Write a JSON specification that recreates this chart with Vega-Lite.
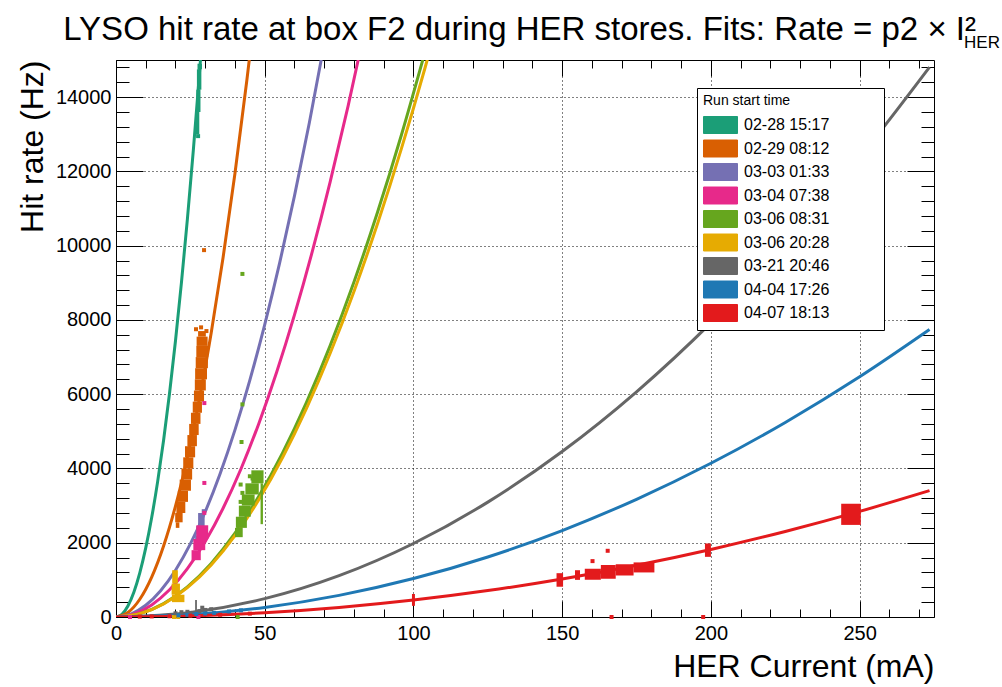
{
  "$schema": "https://vega.github.io/schema/vega-lite/v6.json",
  "width": 818,
  "height": 557,
  "autosize": {"type": "none"},
  "padding": {"left": 116, "top": 60, "right": 68, "bottom": 70},
  "background": "white",
  "config": {
    "view": {"stroke": null},
    "font": "Liberation Sans",
    "axis": {
      "domainColor": "black", "domainWidth": 1, "tickColor": "black", "tickWidth": 1,
      "labelFont": "Liberation Sans", "labelFontSize": 20, "labelColor": "black",
      "titleFont": "Liberation Sans", "titleFontSize": 32, "titleFontWeight": "normal", "titleColor": "black",
      "gridColor": "black", "gridDash": [1, 3], "gridOpacity": 1, "gridWidth": 1
    }
  },
  "title": {
    "text": "LYSO hit rate at box F2 during HER stores. Fits: Rate = p2 × I²\u2800",
    "subtitle": "HER",
    "anchor": "end", "frame": "group", "dx": 66, "offset": 9,
    "font": "Liberation Sans", "fontSize": 33, "fontWeight": "normal", "color": "black",
    "subtitleFont": "Liberation Sans", "subtitleFontSize": 17, "subtitleColor": "black", "subtitlePadding": -12
  },
  "datasets": {
    "fits": [
      {"s": "02-28 15:17", "I": 0, "R": 0}, {"s": "02-28 15:17", "I": 2, "R": 74.4}, {"s": "02-28 15:17", "I": 4, "R": 297.6}, {"s": "02-28 15:17", "I": 6, "R": 669.6}, {"s": "02-28 15:17", "I": 8, "R": 1190.4}, {"s": "02-28 15:17", "I": 10, "R": 1860}, {"s": "02-28 15:17", "I": 12, "R": 2678.4}, {"s": "02-28 15:17", "I": 14, "R": 3645.6}, {"s": "02-28 15:17", "I": 16, "R": 4761.6}, {"s": "02-28 15:17", "I": 18, "R": 6026.4}, {"s": "02-28 15:17", "I": 20, "R": 7440}, {"s": "02-28 15:17", "I": 22, "R": 9002.4}, {"s": "02-28 15:17", "I": 24, "R": 10713.6}, {"s": "02-28 15:17", "I": 26, "R": 12573.6}, {"s": "02-28 15:17", "I": 28, "R": 14582.4}, {"s": "02-28 15:17", "I": 29, "R": 15642.6},
      {"s": "02-29 08:12", "I": 0, "R": 0}, {"s": "02-29 08:12", "I": 4, "R": 119.5}, {"s": "02-29 08:12", "I": 8, "R": 478.1}, {"s": "02-29 08:12", "I": 12, "R": 1075.7}, {"s": "02-29 08:12", "I": 16, "R": 1912.3}, {"s": "02-29 08:12", "I": 20, "R": 2988}, {"s": "02-29 08:12", "I": 24, "R": 4302.7}, {"s": "02-29 08:12", "I": 28, "R": 5856.5}, {"s": "02-29 08:12", "I": 32, "R": 7649.3}, {"s": "02-29 08:12", "I": 36, "R": 9681.1}, {"s": "02-29 08:12", "I": 40, "R": 11952}, {"s": "02-29 08:12", "I": 44, "R": 14461.9}, {"s": "02-29 08:12", "I": 46, "R": 15806.5},
      {"s": "03-03 01:33", "I": 0, "R": 0}, {"s": "03-03 01:33", "I": 5, "R": 78.75}, {"s": "03-03 01:33", "I": 10, "R": 315}, {"s": "03-03 01:33", "I": 15, "R": 708.75}, {"s": "03-03 01:33", "I": 20, "R": 1260}, {"s": "03-03 01:33", "I": 25, "R": 1968.75}, {"s": "03-03 01:33", "I": 30, "R": 2835}, {"s": "03-03 01:33", "I": 35, "R": 3858.75}, {"s": "03-03 01:33", "I": 40, "R": 5040}, {"s": "03-03 01:33", "I": 45, "R": 6378.75}, {"s": "03-03 01:33", "I": 50, "R": 7875}, {"s": "03-03 01:33", "I": 55, "R": 9528.75}, {"s": "03-03 01:33", "I": 60, "R": 11340}, {"s": "03-03 01:33", "I": 65, "R": 13308.75}, {"s": "03-03 01:33", "I": 70, "R": 15435},
      {"s": "03-04 07:38", "I": 0, "R": 0}, {"s": "03-04 07:38", "I": 6, "R": 81.4}, {"s": "03-04 07:38", "I": 12, "R": 325.4}, {"s": "03-04 07:38", "I": 18, "R": 732.2}, {"s": "03-04 07:38", "I": 24, "R": 1301.8}, {"s": "03-04 07:38", "I": 30, "R": 2034}, {"s": "03-04 07:38", "I": 36, "R": 2929}, {"s": "03-04 07:38", "I": 42, "R": 3986.6}, {"s": "03-04 07:38", "I": 48, "R": 5207}, {"s": "03-04 07:38", "I": 54, "R": 6590.2}, {"s": "03-04 07:38", "I": 60, "R": 8136}, {"s": "03-04 07:38", "I": 66, "R": 9844.6}, {"s": "03-04 07:38", "I": 72, "R": 11715.8}, {"s": "03-04 07:38", "I": 78, "R": 13749.8}, {"s": "03-04 07:38", "I": 84, "R": 15946.6},
      {"s": "03-06 08:31", "I": 0, "R": 0}, {"s": "03-06 08:31", "I": 8, "R": 90.2}, {"s": "03-06 08:31", "I": 16, "R": 361}, {"s": "03-06 08:31", "I": 24, "R": 812.2}, {"s": "03-06 08:31", "I": 32, "R": 1443.8}, {"s": "03-06 08:31", "I": 40, "R": 2256}, {"s": "03-06 08:31", "I": 48, "R": 3248.6}, {"s": "03-06 08:31", "I": 56, "R": 4421.8}, {"s": "03-06 08:31", "I": 64, "R": 5775.4}, {"s": "03-06 08:31", "I": 72, "R": 7309.4}, {"s": "03-06 08:31", "I": 80, "R": 9024}, {"s": "03-06 08:31", "I": 88, "R": 10919}, {"s": "03-06 08:31", "I": 96, "R": 12994.6}, {"s": "03-06 08:31", "I": 104, "R": 15250.6},
      {"s": "03-06 20:28", "I": 0, "R": 0}, {"s": "03-06 20:28", "I": 8, "R": 87.7}, {"s": "03-06 20:28", "I": 16, "R": 350.7}, {"s": "03-06 20:28", "I": 24, "R": 789.1}, {"s": "03-06 20:28", "I": 32, "R": 1402.9}, {"s": "03-06 20:28", "I": 40, "R": 2192}, {"s": "03-06 20:28", "I": 48, "R": 3156.5}, {"s": "03-06 20:28", "I": 56, "R": 4296.3}, {"s": "03-06 20:28", "I": 64, "R": 5611.5}, {"s": "03-06 20:28", "I": 72, "R": 7102.1}, {"s": "03-06 20:28", "I": 80, "R": 8768}, {"s": "03-06 20:28", "I": 88, "R": 10609.3}, {"s": "03-06 20:28", "I": 96, "R": 12625.9}, {"s": "03-06 20:28", "I": 104, "R": 14817.9}, {"s": "03-06 20:28", "I": 108, "R": 15979.7},
      {"s": "03-21 20:46", "I": 0, "R": 0}, {"s": "03-21 20:46", "I": 25, "R": 123.75}, {"s": "03-21 20:46", "I": 50, "R": 495}, {"s": "03-21 20:46", "I": 75, "R": 1113.75}, {"s": "03-21 20:46", "I": 100, "R": 1980}, {"s": "03-21 20:46", "I": 125, "R": 3093.75}, {"s": "03-21 20:46", "I": 150, "R": 4455}, {"s": "03-21 20:46", "I": 175, "R": 6063.75}, {"s": "03-21 20:46", "I": 200, "R": 7920}, {"s": "03-21 20:46", "I": 225, "R": 10023.75}, {"s": "03-21 20:46", "I": 250, "R": 12375}, {"s": "03-21 20:46", "I": 273.5, "R": 14810},
      {"s": "04-04 17:26", "I": 0, "R": 0}, {"s": "04-04 17:26", "I": 25, "R": 64.7}, {"s": "04-04 17:26", "I": 50, "R": 258.75}, {"s": "04-04 17:26", "I": 75, "R": 582.2}, {"s": "04-04 17:26", "I": 100, "R": 1035}, {"s": "04-04 17:26", "I": 125, "R": 1617.2}, {"s": "04-04 17:26", "I": 150, "R": 2328.75}, {"s": "04-04 17:26", "I": 175, "R": 3169.7}, {"s": "04-04 17:26", "I": 200, "R": 4140}, {"s": "04-04 17:26", "I": 225, "R": 5239.7}, {"s": "04-04 17:26", "I": 250, "R": 6468.75}, {"s": "04-04 17:26", "I": 273.5, "R": 7742},
      {"s": "04-07 18:13", "I": 0, "R": 0}, {"s": "04-07 18:13", "I": 25, "R": 28.4}, {"s": "04-07 18:13", "I": 50, "R": 113.75}, {"s": "04-07 18:13", "I": 75, "R": 255.9}, {"s": "04-07 18:13", "I": 100, "R": 455}, {"s": "04-07 18:13", "I": 125, "R": 710.9}, {"s": "04-07 18:13", "I": 150, "R": 1023.75}, {"s": "04-07 18:13", "I": 175, "R": 1393.4}, {"s": "04-07 18:13", "I": 200, "R": 1820}, {"s": "04-07 18:13", "I": 225, "R": 2303.4}, {"s": "04-07 18:13", "I": 250, "R": 2843.75}, {"s": "04-07 18:13", "I": 273.5, "R": 3403}
    ],
    "blobs": [
      {"s": "02-28 15:17", "I1": 26.9, "I2": 28.0, "R1": 13000, "R2": 13600},
      {"s": "02-28 15:17", "I1": 27.0, "I2": 28.4, "R1": 13600, "R2": 14200},
      {"s": "02-28 15:17", "I1": 27.2, "I2": 28.7, "R1": 14200, "R2": 14750},
      {"s": "02-28 15:17", "I1": 27.4, "I2": 28.9, "R1": 14750, "R2": 14900},
      {"s": "02-29 08:12", "I1": 20.1, "I2": 21.3, "R1": 2400, "R2": 2550},
      {"s": "02-29 08:12", "I1": 19.9, "I2": 22.4, "R1": 2550, "R2": 2800},
      {"s": "02-29 08:12", "I1": 20.3, "I2": 23.3, "R1": 2800, "R2": 3100},
      {"s": "02-29 08:12", "I1": 20.8, "I2": 24.2, "R1": 3100, "R2": 3400},
      {"s": "02-29 08:12", "I1": 21.4, "I2": 25.2, "R1": 3400, "R2": 3700},
      {"s": "02-29 08:12", "I1": 22.0, "I2": 25.6, "R1": 3700, "R2": 4000},
      {"s": "02-29 08:12", "I1": 22.6, "I2": 26.0, "R1": 4000, "R2": 4300},
      {"s": "02-29 08:12", "I1": 23.2, "I2": 26.6, "R1": 4300, "R2": 4600},
      {"s": "02-29 08:12", "I1": 24.0, "I2": 27.2, "R1": 4600, "R2": 4900},
      {"s": "02-29 08:12", "I1": 24.6, "I2": 27.8, "R1": 4900, "R2": 5200},
      {"s": "02-29 08:12", "I1": 25.2, "I2": 28.4, "R1": 5200, "R2": 5500},
      {"s": "02-29 08:12", "I1": 25.8, "I2": 28.9, "R1": 5500, "R2": 5800},
      {"s": "02-29 08:12", "I1": 26.2, "I2": 29.6, "R1": 5800, "R2": 6100},
      {"s": "02-29 08:12", "I1": 26.5, "I2": 30.2, "R1": 6100, "R2": 6400},
      {"s": "02-29 08:12", "I1": 26.6, "I2": 30.6, "R1": 6400, "R2": 6700},
      {"s": "02-29 08:12", "I1": 26.8, "I2": 30.9, "R1": 6700, "R2": 7000},
      {"s": "02-29 08:12", "I1": 27.0, "I2": 31.0, "R1": 7000, "R2": 7300},
      {"s": "02-29 08:12", "I1": 27.1, "I2": 30.8, "R1": 7300, "R2": 7550},
      {"s": "02-29 08:12", "I1": 27.6, "I2": 30.2, "R1": 7550, "R2": 7700},
      {"s": "03-03 01:33", "I1": 26.6, "I2": 28.3, "R1": 1950, "R2": 2200},
      {"s": "03-03 01:33", "I1": 27.0, "I2": 29.0, "R1": 2200, "R2": 2450},
      {"s": "03-03 01:33", "I1": 27.6, "I2": 29.8, "R1": 2450, "R2": 2800},
      {"s": "03-04 07:38", "I1": 25.4, "I2": 28.5, "R1": 1530, "R2": 1800},
      {"s": "03-04 07:38", "I1": 26.0, "I2": 30.0, "R1": 1800, "R2": 2100},
      {"s": "03-04 07:38", "I1": 27.0, "I2": 31.0, "R1": 2100, "R2": 2470},
      {"s": "03-06 08:31", "I1": 40.0, "I2": 42.6, "R1": 2150, "R2": 2400},
      {"s": "03-06 08:31", "I1": 40.3, "I2": 44.0, "R1": 2400, "R2": 2700},
      {"s": "03-06 08:31", "I1": 41.3, "I2": 45.3, "R1": 2700, "R2": 3000},
      {"s": "03-06 08:31", "I1": 42.3, "I2": 46.6, "R1": 3000, "R2": 3300},
      {"s": "03-06 08:31", "I1": 43.5, "I2": 48.0, "R1": 3300, "R2": 3600},
      {"s": "03-06 08:31", "I1": 45.5, "I2": 49.6, "R1": 3600, "R2": 3950},
      {"s": "03-06 08:31", "I1": 48.6, "I2": 49.4, "R1": 2500, "R2": 3600},
      {"s": "03-06 20:28", "I1": 18.8, "I2": 23.0, "R1": 400, "R2": 600},
      {"s": "03-06 20:28", "I1": 18.7, "I2": 21.5, "R1": 600, "R2": 900},
      {"s": "03-06 20:28", "I1": 18.9, "I2": 20.8, "R1": 900, "R2": 1260},
      {"s": "03-21 20:46", "I1": 26.6, "I2": 27.2, "R1": 60, "R2": 460},
      {"s": "04-07 18:13", "I1": 99.5, "I2": 100.5, "R1": 300, "R2": 620},
      {"s": "04-07 18:13", "I1": 148.1, "I2": 150.3, "R1": 815, "R2": 1180},
      {"s": "04-07 18:13", "I1": 154.3, "I2": 156.0, "R1": 1000, "R2": 1260},
      {"s": "04-07 18:13", "I1": 157.6, "I2": 163.0, "R1": 1000, "R2": 1300},
      {"s": "04-07 18:13", "I1": 163.0, "I2": 168.0, "R1": 1030, "R2": 1400},
      {"s": "04-07 18:13", "I1": 168.0, "I2": 174.0, "R1": 1120, "R2": 1420},
      {"s": "04-07 18:13", "I1": 174.0, "I2": 181.0, "R1": 1200, "R2": 1470},
      {"s": "04-07 18:13", "I1": 198.0, "I2": 200.0, "R1": 1620, "R2": 1980},
      {"s": "04-07 18:13", "I1": 243.8, "I2": 250.4, "R1": 2480, "R2": 3050}
    ],
    "pts": [
      {"s": "02-28 15:17", "I": 27.6, "R": 12950},
      {"s": "02-29 08:12", "I": 26.9, "R": 7750}, {"s": "02-29 08:12", "I": 29.6, "R": 9880}, {"s": "02-29 08:12", "I": 30.4, "R": 7700}, {"s": "02-29 08:12", "I": 28.6, "R": 7800},
      {"s": "03-03 01:33", "I": 29.5, "R": 2850},
      {"s": "03-04 07:38", "I": 29.7, "R": 3610}, {"s": "03-04 07:38", "I": 29.7, "R": 2804}, {"s": "03-04 07:38", "I": 29.7, "R": 5761}, {"s": "03-04 07:38", "I": 4.7, "R": 0}, {"s": "03-04 07:38", "I": 27.7, "R": 0},
      {"s": "03-06 08:31", "I": 42.2, "R": 4713}, {"s": "03-06 08:31", "I": 41.9, "R": 3567}, {"s": "03-06 08:31", "I": 42.5, "R": 3342}, {"s": "03-06 08:31", "I": 41.9, "R": 3100}, {"s": "03-06 08:31", "I": 45.0, "R": 3790}, {"s": "03-06 08:31", "I": 45.9, "R": 3728}, {"s": "03-06 08:31", "I": 42.5, "R": 9239}, {"s": "03-06 08:31", "I": 42.5, "R": 5726}, {"s": "03-06 08:31", "I": 40.9, "R": 0},
      {"s": "03-06 20:28", "I": 20.9, "R": 0}, {"s": "03-06 20:28", "I": 19.5, "R": 0},
      {"s": "04-07 18:13", "I": 165.3, "R": 1783}, {"s": "04-07 18:13", "I": 160.2, "R": 1505}, {"s": "04-07 18:13", "I": 166.6, "R": 0}, {"s": "04-07 18:13", "I": 197.4, "R": 0}
    ],
    "low": [
      {"s": "03-21 20:46", "I": 20, "R": 100}, {"s": "03-21 20:46", "I": 22, "R": 130}, {"s": "03-21 20:46", "I": 24, "R": 140}, {"s": "03-21 20:46", "I": 25, "R": 110}, {"s": "03-21 20:46", "I": 28, "R": 160}, {"s": "03-21 20:46", "I": 29, "R": 250}, {"s": "03-21 20:46", "I": 30, "R": 190}, {"s": "03-21 20:46", "I": 32, "R": 210},
      {"s": "04-04 17:26", "I": 18, "R": 30}, {"s": "04-04 17:26", "I": 21, "R": 45}, {"s": "04-04 17:26", "I": 24, "R": 60}, {"s": "04-04 17:26", "I": 27, "R": 80}, {"s": "04-04 17:26", "I": 30, "R": 95}, {"s": "04-04 17:26", "I": 33, "R": 110}, {"s": "04-04 17:26", "I": 38, "R": 150}, {"s": "04-04 17:26", "I": 42, "R": 180},
      {"s": "04-07 18:13", "I": 8, "R": 10}, {"s": "04-07 18:13", "I": 12, "R": 15}, {"s": "04-07 18:13", "I": 18, "R": 20}, {"s": "04-07 18:13", "I": 25, "R": 35}, {"s": "04-07 18:13", "I": 35, "R": 60}, {"s": "04-07 18:13", "I": 45, "R": 90}
    ]
  },
  "layer": [
    {
      "data": {"name": "fits"},
      "mark": {"type": "line", "strokeWidth": 3, "clip": true, "interpolate": "monotone"},
      "encoding": {
        "x": {"field": "I", "type": "quantitative", "scale": {"domain": [0, 275], "nice": false, "zero": false},
          "axis": {"orient": "bottom", "values": [0, 50, 100, 150, 200, 250], "format": "d", "tickSize": -16, "labelPadding": 22, "labelFlush": false, "grid": true, "title": "HER Current (mA)", "titleAnchor": "end", "titlePadding": 8}},
        "y": {"field": "R", "type": "quantitative", "scale": {"domain": [0, 15000], "nice": false, "zero": false},
          "axis": {"orient": "left", "values": [0, 2000, 4000, 6000, 8000, 10000, 12000, 14000], "format": "d", "tickSize": -27, "labelPadding": 32, "labelFlush": false, "grid": true, "title": "Hit rate (Hz)", "titleAnchor": "end", "titlePadding": 6}},
        "color": {"field": "s", "type": "nominal",
          "scale": {"domain": ["02-28 15:17", "02-29 08:12", "03-03 01:33", "03-04 07:38", "03-06 08:31", "03-06 20:28", "03-21 20:46", "04-04 17:26", "04-07 18:13"],
                    "range": ["#1b9e77", "#d95f02", "#7570b3", "#e7298a", "#66a61e", "#e6ab02", "#666666", "#1f78b4", "#e31a1c"]},
          "legend": {
            "title": "Run start time", "orient": "none", "legendX": 581, "legendY": 28, "direction": "vertical",
            "symbolType": "M-1,-1H3V1H-1Z", "symbolSize": 289, "symbolStrokeColor": "black", "symbolStrokeWidth": 1, "symbolOpacity": 1,
            "labelFont": "Liberation Sans", "labelFontSize": 16, "labelColor": "black", "labelOffset": 23,
            "labelExpr": "datum.label + '\u2800\u2800\u2800\u2800'",
            "titleFont": "Liberation Sans", "titleFontSize": 14, "titleFontWeight": "normal", "titleColor": "black", "titlePadding": 8,
            "rowPadding": 1.5, "padding": 6, "strokeColor": "black", "fillColor": "white",
            "encode": {"symbols": {"update": {"fill": {"scale": "color", "field": "value"}, "fillOpacity": {"value": 1}, "stroke": {"value": "black"}, "strokeWidth": {"value": 1}}}}
          }},
        "detail": {"field": "s"}
      }
    },
    {
      "data": {"name": "blobs"},
      "mark": {"type": "rect", "opacity": 1},
      "encoding": {
        "x": {"field": "I1", "type": "quantitative", "scale": {"domain": [0, 275], "nice": false, "zero": false},
          "axis": {"orient": "top", "values": [0, 50, 100, 150, 200, 250], "tickSize": -16, "labels": false, "grid": false, "title": null}},
        "x2": {"field": "I2"},
        "y": {"field": "R1", "type": "quantitative", "scale": {"domain": [0, 15000], "nice": false, "zero": false},
          "axis": {"orient": "right", "values": [0, 2000, 4000, 6000, 8000, 10000, 12000, 14000], "tickSize": -27, "labels": false, "grid": false, "title": null}},
        "y2": {"field": "R2"},
        "color": {"field": "s", "type": "nominal"}
      }
    },
    {
      "data": {"name": "pts"},
      "mark": {"type": "point", "shape": "square", "filled": true, "size": 16, "opacity": 1},
      "encoding": {
        "x": {"field": "I", "type": "quantitative", "scale": {"domain": [0, 275], "nice": false, "zero": false},
          "axis": {"orient": "bottom", "values": [10, 20, 30, 40, 60, 70, 80, 90, 110, 120, 130, 140, 160, 170, 180, 190, 210, 220, 230, 240, 260, 270], "tickSize": -8, "labels": false, "domain": false, "grid": false, "title": null}},
        "y": {"field": "R", "type": "quantitative", "scale": {"domain": [0, 15000], "nice": false, "zero": false},
          "axis": {"orient": "left", "values": [400, 800, 1200, 1600, 2400, 2800, 3200, 3600, 4400, 4800, 5200, 5600, 6400, 6800, 7200, 7600, 8400, 8800, 9200, 9600, 10400, 10800, 11200, 11600, 12400, 12800, 13200, 13600, 14400, 14800], "tickSize": -13, "labels": false, "domain": false, "grid": false, "title": null}},
        "color": {"field": "s", "type": "nominal"}
      }
    },
    {
      "data": {"name": "low"},
      "mark": {"type": "point", "shape": "square", "filled": true, "size": 16, "opacity": 1},
      "encoding": {
        "x": {"field": "I", "type": "quantitative", "scale": {"domain": [0, 275], "nice": false, "zero": false},
          "axis": {"orient": "top", "values": [10, 20, 30, 40, 60, 70, 80, 90, 110, 120, 130, 140, 160, 170, 180, 190, 210, 220, 230, 240, 260, 270], "tickSize": -8, "labels": false, "domain": false, "grid": false, "title": null}},
        "y": {"field": "R", "type": "quantitative", "scale": {"domain": [0, 15000], "nice": false, "zero": false},
          "axis": {"orient": "right", "values": [400, 800, 1200, 1600, 2400, 2800, 3200, 3600, 4400, 4800, 5200, 5600, 6400, 6800, 7200, 7600, 8400, 8800, 9200, 9600, 10400, 10800, 11200, 11600, 12400, 12800, 13200, 13600, 14400, 14800], "tickSize": -13, "labels": false, "domain": false, "grid": false, "title": null}},
        "color": {"field": "s", "type": "nominal"}
      }
    }
  ],
  "resolve": {"axis": {"x": "independent", "y": "independent"}}
}
